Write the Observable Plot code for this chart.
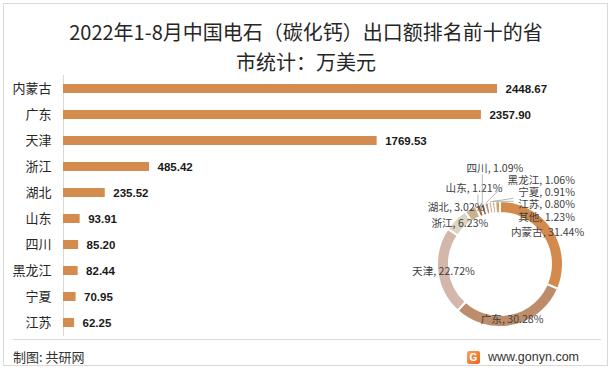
<!DOCTYPE html>
<html>
<head>
<meta charset="utf-8">
<script src="https://cdn.jsdelivr.net/npm/d3@7"></script>
<script src="https://cdn.jsdelivr.net/npm/@observablehq/plot@0.6"></script>
<style>
  html, body { margin: 0; padding: 0; background: #fff; }
  #frame { position: relative; width: 612px; height: 369px; overflow: hidden; background: #fff;
           font-family: "Noto Sans CJK SC", "Noto Sans", sans-serif; }
  #border { position: absolute; left: 3px; top: 3px; width: 603px; height: 361px; border: 1px solid #d9d9d9; }
  #title { position: absolute; left: 0; top: 17px; width: 612px; text-align: center;
           font-size: 20px; line-height: 30px; color: #262626; }
  #chart { position: absolute; left: 0; top: 75px; }
  #sep { position: absolute; left: 13px; top: 339px; width: 588px; height: 0; border-top: 1px solid #d9d9d9; }
  #credit { position: absolute; left: 13px; top: 347px; font-size: 13px; line-height: 20px; color: #333; }
  #site { position: absolute; left: 467px; top: 348px; font-size: 12.5px; line-height: 18px; color: #333;
          font-family: "Liberation Sans", Arial, sans-serif; display: flex; align-items: center; }
  #site .logo { display: inline-block; width: 13px; height: 13px; margin-right: 8px; border-radius: 2px;
                background: linear-gradient(135deg, #f7a552, #e8642a); color: #fff; font-weight: bold;
                font-size: 10px; line-height: 13px; text-align: center; }
</style>
</head>
<body>
<div id="frame">
  <div id="border"></div>
  <div id="title"></div>
  <div id="chart"></div>
  <div id="sep"></div>
  <div id="credit"></div>
  <div id="site"><span class="logo">G</span><span id="siteText"></span></div>
</div>
<script>
// ---- data ----
const titleLines = ["2022年1-8月中国电石（碳化钙）出口额排名前十的省", "市统计：万美元"];
const provinces = ["内蒙古", "广东", "天津", "浙江", "湖北", "山东", "四川", "黑龙江", "宁夏", "江苏"];
const exportValues = [2448.67, 2357.90, 1769.53, 485.42, 235.52, 93.91, 85.20, 82.44, 70.95, 62.25];
const shareNames = ["内蒙古", "广东", "天津", "浙江", "湖北", "山东", "四川", "黑龙江", "宁夏", "江苏", "其他"];
const sharePercents = [31.44, 30.28, 22.72, 6.23, 3.02, 1.21, 1.09, 1.06, 0.91, 0.80, 1.23];
const creditText = "制图: 共研网";
const siteText = "www.gonyn.com";

// ---- styling / layout ----
const barColor = "#D38B4E";
const slicePalette = ["#D38A4C", "#BD8D6B", "#D3B7AB", "#DDD5C3", "#C8B18F", "#A8693B",
                      "#8E6B55", "#B88F84", "#E0A77B", "#B07D5C", "#C9A46C"];
const donut = { cx: 500, cy: 189, inner: 51, outer: 63 };
// placement rules for the small slices' labels (nudges from the ring centroid, or a right-hand stack)
const smallLabelRule = {
  "湖北": { dx: -17, dy: -6 },
  "山东": { dx: -6, dy: -22, leader: true },
  "四川": { dx: 11, dy: -41, leader: true },
  "黑龙江": { stack: 0, leader: true },
  "宁夏": { stack: 1, leader: true },
  "江苏": { stack: 2, leader: true },
  "其他": { stack: 3 }
};

document.getElementById("title").innerHTML = titleLines.map(t => `<div>${t}</div>`).join("");
document.getElementById("credit").textContent = creditText;
document.getElementById("siteText").textContent = siteText;

const barData = provinces.map((p, i) => ({ province: p, value: exportValues[i] }));

const angle = Plot.scale({ x: { type: "linear", domain: [0, d3.sum(sharePercents)], range: [0, 2 * Math.PI] } });
const sliceColor = Plot.scale({ color: { type: "ordinal", domain: shareNames, range: slicePalette } });

function donutMark() {
  const g = d3.create("svg:g");
  const starts = [0, ...d3.cumsum(sharePercents)];
  const arc = d3.arc().innerRadius(donut.inner).outerRadius(donut.outer);
  const slices = shareNames.map((name, i) => ({
    name, pct: sharePercents[i],
    startAngle: angle.apply(starts[i]), endAngle: angle.apply(starts[i + 1])
  }));
  const root = g.append("g").attr("transform", `translate(${donut.cx},${donut.cy})`);
  root.selectAll("path").data(slices).join("path")
    .attr("d", arc)
    .attr("fill", d => sliceColor.apply(d.name))
    .attr("stroke", "#fff").attr("stroke-width", 2);

  const fs = 10.6;
  slices.forEach(d => {
    const label = `${d.name}, ${d.pct.toFixed(2)}%`;
    const w = fs * (d.name.length + 3.8);
    const [mx, my] = arc.centroid(d);
    const rule = smallLabelRule[d.name];
    let x, y, anchor = "middle";
    if (rule && rule.stack !== undefined) {
      x = 75; y = -84 + 12.3 * rule.stack; anchor = "end";
    } else if (rule) {
      x = mx + rule.dx; y = my + rule.dy;
    } else {
      x = mx; y = my;
    }
    const x0 = anchor === "end" ? x - w : x - w / 2, x1 = x0 + w;
    if (rule && rule.leader) {
      const a = (d.startAngle + d.endAngle) / 2;
      const px = donut.outer * Math.sin(a), py = -donut.outer * Math.cos(a);
      const qx = Math.max(x0, Math.min(x1, px)), qy = Math.max(y - 6, Math.min(y + 6, py));
      root.append("line").attr("x1", px).attr("y1", py).attr("x2", qx).attr("y2", qy)
        .attr("stroke", "#a6a6a6").attr("stroke-width", 0.8);
    }
    root.append("text").attr("x", x).attr("y", y).attr("dy", "0.35em")
      .attr("text-anchor", anchor).attr("font-size", fs).attr("fill", "#404040")
      .attr("font-family", '"Noto Sans CJK SC", sans-serif')
      .text(label);
  });
  return g.node();
}

const chart = Plot.plot({
  width: 612,
  height: 263,
  marginLeft: 63,
  marginRight: 115,
  marginTop: 0,
  marginBottom: 2,
  x: { domain: [0, d3.max(exportValues)], axis: null },
  y: { domain: provinces, paddingInner: 0.655, paddingOuter: 0.3275, label: null },
  style: { background: "transparent", fontFamily: '"Noto Sans CJK SC", sans-serif', fontSize: "13px",
           color: "#262626", overflow: "visible" },
  marks: [
    Plot.ruleX([0], { stroke: "#d9d9d9" }),
    Plot.barX(barData, { x: "value", y: "province", fill: barColor }),
    Plot.text(barData, { x: "value", y: "province", text: d => d.value.toFixed(2), dx: 8,
      textAnchor: "start", fontWeight: "bold", fontSize: 11.5, fill: "#1a1a1a",
      fontFamily: '"Liberation Sans", Arial, sans-serif' }),
    Plot.axisY({ tickSize: 0, tickPadding: 12, fontSize: 13, label: null }),
    donutMark
  ]
});
document.getElementById("chart").appendChild(chart);
</script>
</body>
</html>
